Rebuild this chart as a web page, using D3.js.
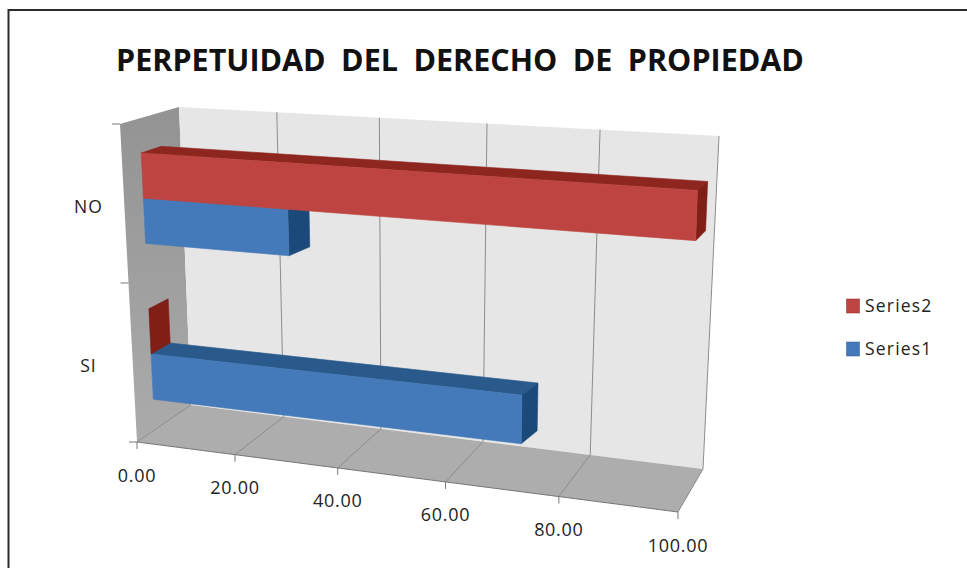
<!DOCTYPE html>
<html><head><meta charset="utf-8">
<script src="https://cdn.jsdelivr.net/npm/d3@7/dist/d3.min.js"></script>
<style>html,body{margin:0;padding:0;background:#fff}svg{display:block}text{font-family:"Open Sans",sans-serif;fill:#222}</style>
</head><body><svg id="c" width="967" height="568"></svg>
<script>
const title = "PERPETUIDAD DEL DERECHO DE PROPIEDAD";
const categories = ["SI", "NO"];
const seriesNames = ["Series1", "Series2"];
const series1 = [71.43, 28.57];
const series2 = [0, 100];
const xTicks = [0, 20, 40, 60, 80, 100];
const seriesFront = {Series1:"#447ab9", Series2:"#be4441"};
const seriesTop = {Series1:"#2a5a8c", Series2:"#8e2620"};
const seriesSide = {Series1:"#1b4a7a", Series2:"#7f1f18"};

const svg = d3.select("#c");
// projected box corners: front-bottom L/R, front-top L/R, back-bottom L/R, back-top L/R
const W = [[137,442],[678,512],[120,124],[689,160],[191,405],[703,469],[179,107],[719,136]];
const vs = d3.scaleLinear().domain([0,100]).range([0,1]);
const warp = (t,w) => t/(t+w*(1-t));
const lerp = (a,b,k)=>a+(b-a)*k;
function P(v,d,h,w=1.13){
  const f = warp(vs(v),w);
  return [0,1].map(i=>{
    const fb = lerp(lerp(W[0][i],W[1][i],f),lerp(W[2][i],W[3][i],f),h);
    const bk = lerp(lerp(W[4][i],W[5][i],f),lerp(W[6][i],W[7][i],f),h);
    return lerp(fb,bk,d);
  });
}
const poly = (pts,fill,stroke)=>svg.append("polygon").attr("points",pts.map(p=>p.join(",")).join(" ")).attr("fill",fill).attr("stroke",stroke||"none").attr("stroke-width",stroke?0.6:0);
const line = (a,b,c,w)=>svg.append("line").attr("x1",a[0]).attr("y1",a[1]).attr("x2",b[0]).attr("y2",b[1]).attr("stroke",c).attr("stroke-width",w||1);

// chart frame
svg.append("path").attr("d","M8.5 568V10H967").attr("fill","none").attr("stroke","#2b2b2b").attr("stroke-width",2);
svg.append("text").attr("x",460).attr("y",71).attr("text-anchor","middle").attr("font-size",30.5).attr("font-weight",700).attr("style","fill:#111").attr("word-spacing",7.5).text(title);

// walls
const defs = svg.append("defs");
const g = defs.append("linearGradient").attr("id","wall").attr("x1",0).attr("y1",0).attr("x2",0).attr("y2",1);
g.append("stop").attr("offset",0).attr("stop-color","#939393");
g.append("stop").attr("offset",1).attr("stop-color","#ababab");
poly([P(0,0,0),P(0,0,1),P(0,1,1),P(0,1,0)],"url(#wall)");
poly([P(0,1,0),P(0,1,1),P(100,1,1),P(100,1,0)],"#e6e6e6");
poly([P(0,0,0),P(100,0,0),P(100,1,0),P(0,1,0)],"#adadad");

// grid and axis
xTicks.forEach(v=>{
  if(v>0) line(P(v,1,0),P(v,1,1),"#8c8c8c",1);
  line(P(v,0,0),P(v,1,0),"#8c8c8c",1);
  const p=P(v,0,0);
  line(p,[p[0],p[1]+7],"#777",1);
  svg.append("text").attr("x",p[0]).attr("y",p[1]+39.5).attr("text-anchor","middle").attr("font-size",18).attr("letter-spacing",.7).text(d3.format(".2f")(v));
});
line(P(0,0,0),P(100,0,0),"#777",1);
[0,.5,1].forEach(h=>{const p=P(0,0,h);line([p[0]-8,p[1]],p,"#777",1);});

// category labels
const catAxis = d3.scaleBand().domain(categories).range([0,1]);
categories.forEach(c=>{
  const p=P(0,0,catAxis(c)+catAxis.bandwidth()/2);
  svg.append("text").attr("x",88.5).attr("y",p[1]+9.5).attr("text-anchor","middle").attr("font-size",17.5).attr("letter-spacing",1).text(c);
});

// bars
const rows = d3.scaleBand().domain(categories).range([.098,.889]).paddingInner(.42);
const sub = d3.scaleBand().domain(seriesNames).range([0,rows.bandwidth()]);
const d0=.33, d1=.675, wBack=1.09;
const values = {Series1:series1, Series2:series2};
categories.forEach((c,ci)=>{
  seriesNames.forEach(s=>{
    const v=values[s][ci];
    const h0=rows(c)+sub(s), h1=h0+sub.bandwidth();
    const endFace=[P(v,d0,h0),P(v,d1,h0,wBack),P(v,d1,h1,wBack),P(v,d0,h1)];
    if(v>0){
      poly([P(0,d0,h1),P(v,d0,h1),P(v,d1,h1,wBack),P(0,d1,h1)],seriesTop[s],seriesTop[s]);
      poly(endFace,seriesSide[s],seriesSide[s]);
      poly([P(0,d0,h0),P(v,d0,h0),P(v,d0,h1),P(0,d0,h1)],seriesFront[s],seriesFront[s]);
    } else {
      poly(endFace,seriesSide[s],seriesSide[s]);
    }
  });
});

// legend
const legendY = d3.scalePoint().domain(seriesNames.slice().reverse()).range([306,349]);
seriesNames.forEach(s=>{
  const y=legendY(s);
  svg.append("rect").attr("x",846.5).attr("y",y-7).attr("width",13).attr("height",14).attr("fill",seriesFront[s]).attr("stroke",seriesTop[s]).attr("stroke-opacity",.5);
  svg.append("text").attr("x",865).attr("y",y+6).attr("font-size",17.5).attr("letter-spacing",1.2).text(s);
});
</script></body></html>
